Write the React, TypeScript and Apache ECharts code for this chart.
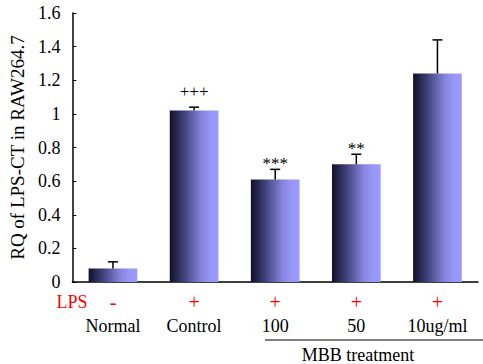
import React, { useEffect, useRef } from "react";
import * as echarts from "echarts";

const categories = ["Normal", "Control", "100", "50", "10ug/ml"];
const lpsSigns = ["-", "+", "+", "+", "+"];
const means = [0.08, 1.02, 0.61, 0.7, 1.24];
const errors = [0.04, 0.02, 0.06, 0.06, 0.2];
const markers = ["", "+++", "***", "**", ""];

const FONT = "Liberation Serif";

export default function App() {
  const ref = useRef<HTMLDivElement>(null);
  useEffect(() => {
    if (!ref.current) return;
    const chart = echarts.init(ref.current, null, { renderer: "svg" });
    const barColor = new echarts.graphic.LinearGradient(0, 0, 1, 0, [
      { offset: 0, color: "#10102a" },
      { offset: 0.3, color: "#42427c" },
      { offset: 0.65, color: "#8585dc" },
      { offset: 0.85, color: "#9898fa" },
      { offset: 1, color: "#9a9aff" },
    ]);
    chart.setOption({
      animation: false,
      textStyle: { fontFamily: FONT },
      grid: { left: 70, right: 5, top: 13, bottom: 82 },
      xAxis: {
        type: "category",
        data: categories,
        axisLine: { lineStyle: { color: "#000", width: 1.5 } },
        axisTick: { inside: true, length: 5, lineStyle: { color: "#000" } },
        axisLabel: {
          margin: 8,
          interval: 0,
          fontFamily: FONT,
          formatter: (v: string, i: number) => `{s|${lpsSigns[i]}}\n{n|${v}}`,
          rich: {
            s: { color: "#ff0000", fontSize: 20, lineHeight: 24, fontFamily: FONT },
            n: { color: "#000", fontSize: 18, lineHeight: 24, fontFamily: FONT },
          },
        },
      },
      yAxis: {
        type: "value",
        min: 0,
        max: 1.6,
        interval: 0.2,
        name: "RQ of LPS-CT in RAW264.7",
        nameLocation: "middle",
        nameGap: 41,
        nameTextStyle: { color: "#000", fontSize: 19, fontFamily: FONT },
        axisLine: { show: true, lineStyle: { color: "#000", width: 1.5 } },
        axisTick: { show: true, inside: true, length: 4, lineStyle: { color: "#000" } },
        splitLine: { show: false },
        axisLabel: {
          color: "#000",
          fontSize: 18,
          margin: 12,
          fontFamily: FONT,
          formatter: (v: number) => String(Math.round(v * 10) / 10),
        },
      },
      series: [
        {
          type: "bar",
          data: means,
          barWidth: "60%",
          itemStyle: { color: barColor },
        },
        {
          type: "custom",
          data: means.map((m, i) => [i, m, errors[i]]),
          z: 5,
          renderItem: (params: any, api: any) => {
            const x = api.value(0);
            const m = api.value(1);
            const e = api.value(2);
            const p0 = api.coord([x, m]);
            const p1 = api.coord([x, m + e]);
            const stroke = { stroke: "#000", lineWidth: 1.5 };
            const mk = markers[params.dataIndex];
            const isStar = mk.startsWith("*");
            return {
              type: "group",
              children: [
                { type: "line", shape: { x1: p0[0], y1: p0[1], x2: p1[0], y2: p1[1] }, style: stroke },
                { type: "line", shape: { x1: p1[0] - 5, y1: p1[1], x2: p1[0] + 5, y2: p1[1] }, style: stroke },
                {
                  type: "text",
                  x: p1[0],
                  y: p1[1] + (isStar ? 3 : -7),
                  style: {
                    text: mk,
                    fill: "#000",
                    fontSize: 17,
                    fontFamily: FONT,
                    align: "center",
                    verticalAlign: "bottom",
                  },
                },
              ],
            };
          },
        },
      ],
      graphic: [
        {
          type: "text",
          x: 72,
          y: 302,
          style: {
            text: "LPS",
            fill: "#ff0000",
            fontSize: 18,
            fontFamily: FONT,
            align: "center",
            verticalAlign: "middle",
          },
        },
        {
          type: "line",
          shape: { x1: 265, y1: 340, x2: 483, y2: 340 },
          style: { stroke: "#000", lineWidth: 1.2 },
        },
        {
          type: "text",
          x: 358,
          y: 355,
          style: {
            text: "MBB treatment",
            fill: "#000",
            fontSize: 18,
            fontFamily: FONT,
            align: "center",
            verticalAlign: "middle",
          },
        },
      ],
    });
    return () => chart.dispose();
  }, []);
  return <div ref={ref} style={{ width: 483, height: 364, position: "absolute", left: 0, top: 0 }} />;
}
